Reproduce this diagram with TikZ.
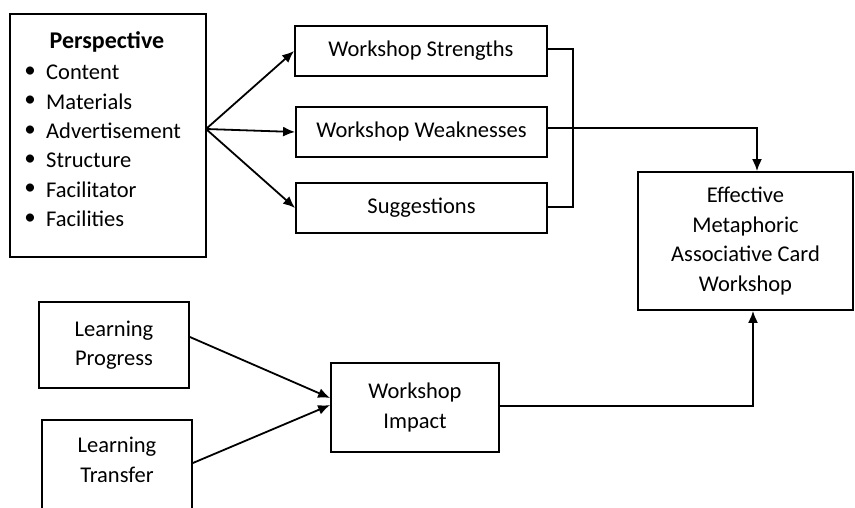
\documentclass[tikz,border=0pt]{standalone}
\usepackage{fontspec}
\setmainfont{Carlito}
\usetikzlibrary{arrows.meta}
\begin{document}
\begin{tikzpicture}[x=1pt,y=-1pt,
  box/.style={draw,line width=1.8pt,inner sep=0pt,align=center,font=\fontsize{22.5}{29.5}\selectfont},
  txt/.style={inner sep=0pt,anchor=west,font=\fontsize{22.5}{29.5}\selectfont},
  bul/.style={inner sep=0pt,font=\fontsize{23}{29.5}\selectfont},
  conn/.style={line width=1.8pt},
  arr/.style={line width=1.8pt,-{Latex[length=12pt,width=10pt]}}]
\clip (0,0) rectangle (855,508);
\fill[white] (0,0) rectangle (855,508);
% Perspective box
\node[box,minimum width=196pt,minimum height=243pt] (persp) at (108,135.5) {};
\node[inner sep=0pt,font=\fontsize{24}{29.5}\selectfont\bfseries] (ptitle) at (107,42) {Perspective};
\foreach \t [count=\i] in {Content,Materials,Advertisement,Structure,Facilitator,Facilities}{
  \node[bul] (b\i) at (30,43+29.3*\i) {•};
  \node[txt] (i\i) at (46,43+29.3*\i) {\t};
}
% middle boxes
\node[box,minimum width=252pt,minimum height=50pt] (ws) at (421,51) {Workshop Strengths};
\node[box,minimum width=251pt,minimum height=50pt] (ww) at (421.5,132) {Workshop Weaknesses};
\node[box,minimum width=251pt,minimum height=50pt] (sg) at (421.5,208) {Suggestions};
% effective
\node[box,minimum width=215pt,minimum height=138pt] (eff) at (745.5,241) {Effective\\Metaphoric\\Associative Card\\Workshop};
% learning boxes
\node[box,minimum width=150pt,minimum height=86pt] (lp) at (114,345) {Learning\\Progress};
\node[box,minimum width=150pt,minimum height=100pt] (lt) at (117,470) {};
\node[inner sep=0pt,align=center,font=\fontsize{22.5}{29.5}\selectfont] (ltt) at (117,460) {Learning\\Transfer};
\node[box,minimum width=168pt,minimum height=89pt] (wi) at (415,407.5) {Workshop\\Impact};
% coordinates
\coordinate (pr) at (206,129);
\coordinate (b1) at (573,49);
\coordinate (b2) at (573,207);
\coordinate (e1) at (757,128);
\coordinate (w1) at (753,406);
% connectors
\draw[arr] (pr) -- (ws.west);
\draw[arr] (pr) -- (ww.west);
\draw[arr] (pr) -- (sg.west);
\draw[conn] (ws.east |- b1) -- (b1) -- (b2) -- (sg.east |- b2);
\draw[arr] (ww.east |- e1) -- (e1) -- (eff.north -| e1);
\draw[arr] (lp.east |- 0,337) -- (wi.west |- 0,398);
\draw[arr] (lt.east |- 0,463) -- (wi.west |- 0,405);
\draw[arr] (wi.east |- w1) -- (w1) -- (eff.south -| w1);
\end{tikzpicture}
\end{document}
